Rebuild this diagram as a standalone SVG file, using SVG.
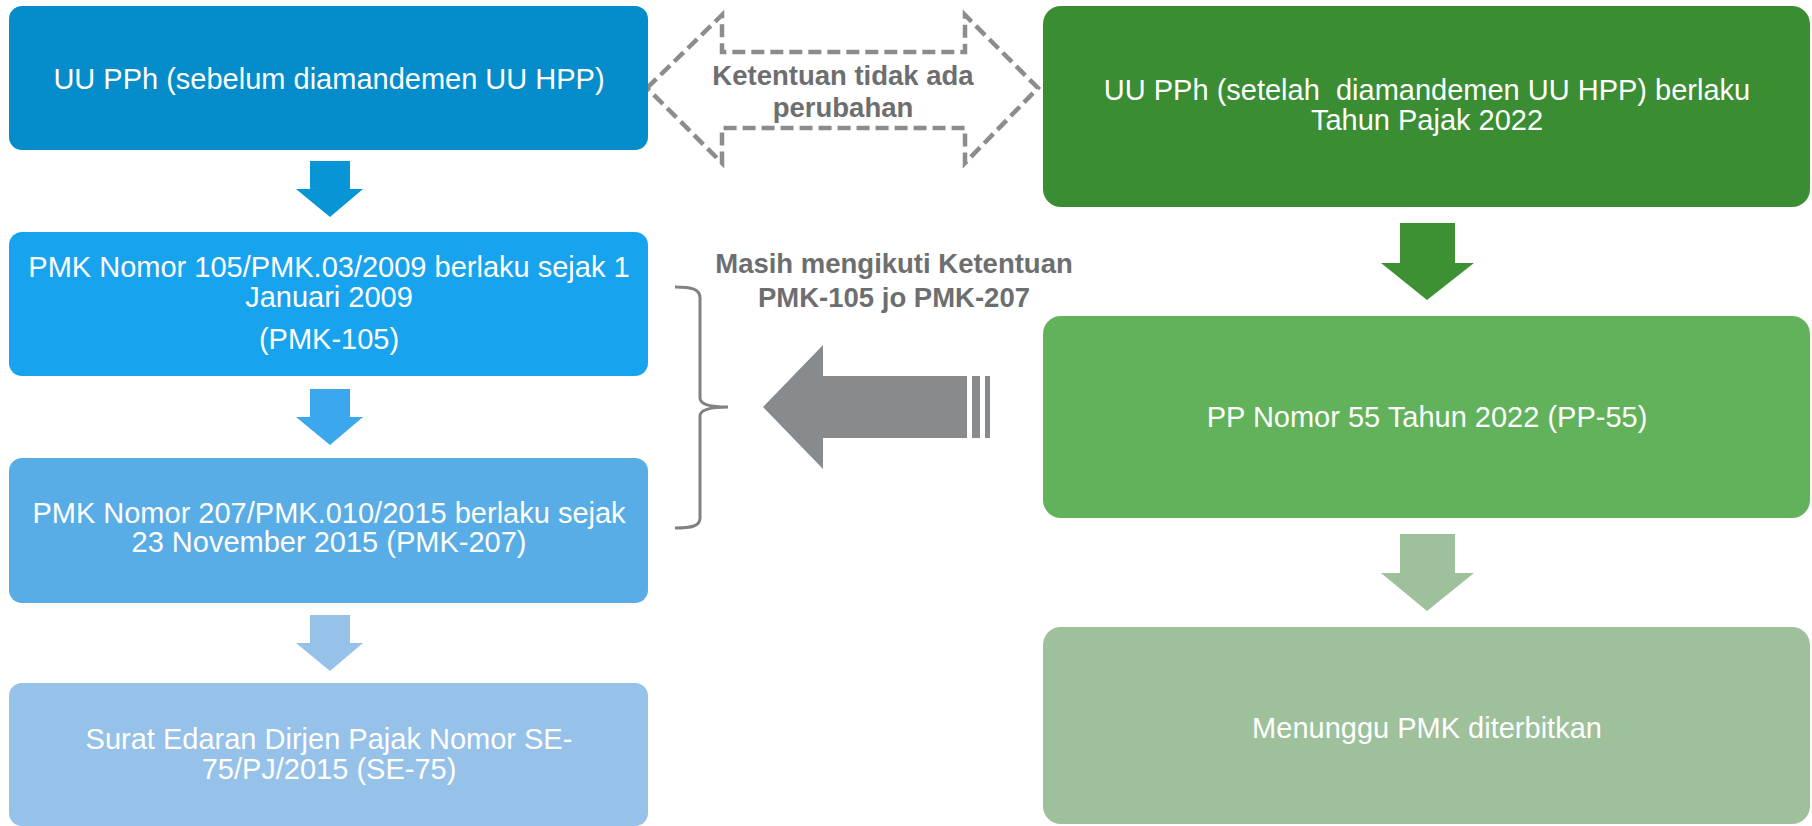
<svg xmlns="http://www.w3.org/2000/svg" width="1812" height="826" viewBox="0 0 1812 826">
<style>
.t{font-family:"Liberation Sans",Arial,sans-serif;font-size:29px;fill:#ffffff;text-anchor:middle;white-space:pre}
.lbl{font-family:"Liberation Sans",Arial,sans-serif;font-size:27.5px;font-weight:bold;fill:#6d6e70;text-anchor:middle}
.dash{fill:none;stroke:#8a8c8e;stroke-width:4.5;stroke-dasharray:13 6;stroke-linejoin:miter}
</style>
<rect width="1812" height="826" fill="#ffffff"/>
<g id="connectors">
  <polygon points="310,161 350,161 350,189 363,189 330,217 296,189 310,189" fill="#0795d6"/>
  <polygon points="310,389 350,389 350,417 363,417 330,445 296,417 310,417" fill="#3ba7ec"/>
  <polygon points="310,615 350,615 350,643 363,643 330,671 296,643 310,643" fill="#96c1e8"/>
  <polygon points="1400,223 1455,223 1455,263 1474,263 1427,300 1381,263 1400,263" fill="#3d9133"/>
  <polygon points="1400,534 1455,534 1455,573 1474,573 1427,611 1381,573 1400,573" fill="#9ec09b"/>
  <polygon class="dash" points="647,88 722,15 722,52 965,52 965,15 1038,88 965,163 965,128 722,128 722,163"/>
  <path d="M675,287 C692,287 700,289 700,298 L700,398 C700,404 708,407 728,407 C708,407 700,410 700,416 L700,518 C700,526 692,528 675,528" fill="none" stroke="#808285" stroke-width="3"/>
  <polygon points="763,407 823,345 823,376 967,376 967,438 823,438 823,469" fill="#888b8d"/>
  <rect x="972" y="376" width="8" height="62" fill="#888b8d"/>
  <rect x="985" y="376" width="5" height="62" fill="#888b8d"/>
  <text class="lbl" x="843" y="85">Ketentuan tidak ada</text>
  <text class="lbl" x="843" y="117">perubahan</text>
  <text class="lbl" x="894" y="273">Masih mengikuti Ketentuan</text>
  <text class="lbl" x="894" y="307">PMK-105 jo PMK-207</text>
</g>
<g id="uu-pph-lama">
  <rect x="9" y="6" width="639" height="144" rx="13" fill="#048dca"/>
  <text class="t" x="329" y="89">UU PPh (sebelum diamandemen UU HPP)</text>
</g>
<g id="pmk-105">
  <rect x="9" y="232" width="639" height="144" rx="13" fill="#18a3ee"/>
  <text class="t" x="329" y="277">PMK Nomor 105/PMK.03/2009 berlaku sejak 1</text>
  <text class="t" x="329" y="307">Januari 2009</text>
  <text class="t" x="329" y="349">(PMK-105)</text>
</g>
<g id="pmk-207">
  <rect x="9" y="458" width="639" height="145" rx="13" fill="#58ade6"/>
  <text class="t" x="329" y="523">PMK Nomor 207/PMK.010/2015 berlaku sejak</text>
  <text class="t" x="329" y="552">23 November 2015 (PMK-207)</text>
</g>
<g id="se-75">
  <rect x="9" y="683" width="639" height="143" rx="13" fill="#96c1e8"/>
  <text class="t" x="329" y="749">Surat Edaran Dirjen Pajak Nomor SE-</text>
  <text class="t" x="329" y="779">75/PJ/2015 (SE-75)</text>
</g>
<g id="uu-pph-baru">
  <rect x="1043" y="6" width="767" height="201" rx="18" fill="#3a8d32"/>
  <text class="t" x="1427" y="100">UU PPh (setelah  diamandemen UU HPP) berlaku</text>
  <text class="t" x="1427" y="130">Tahun Pajak 2022</text>
</g>
<g id="pp-55">
  <rect x="1043" y="316" width="767" height="202" rx="18" fill="#61b25a"/>
  <text class="t" x="1427" y="427">PP Nomor 55 Tahun 2022 (PP-55)</text>
</g>
<g id="menunggu-pmk">
  <rect x="1043" y="627" width="767" height="197" rx="18" fill="#9ec09b"/>
  <text class="t" x="1427" y="738">Menunggu PMK diterbitkan</text>
</g>
</svg>
